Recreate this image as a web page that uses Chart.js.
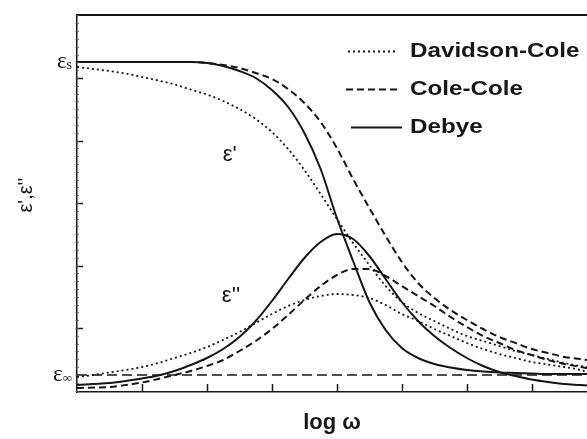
<!DOCTYPE html>
<html>
<head>
<meta charset="utf-8">
<script src="https://cdn.jsdelivr.net/npm/chart.js@4.4.0/dist/chart.umd.min.js"></script>
<style>
  html, body { margin: 0; padding: 0; background: #fff; }
  #wrap { width: 587px; height: 439px; position: relative; }
</style>
</head>
<body>
<div id="wrap"><canvas id="chart"></canvas></div>
<script>
// log omega (one unit = one bottom tick)
var logW = [0, 0.25, 0.5, 0.75, 1, 1.25, 1.5, 1.75, 2, 2.25, 2.5, 2.75, 3, 3.25, 3.5, 3.75,
            4, 4.25, 4.5, 4.75, 5, 5.25, 5.5, 5.75, 6, 6.25, 6.5, 6.75, 7, 7.25, 7.5, 7.75, 7.85];

// eps' (real part)
var debyeReal = [330, 330, 330, 330, 330, 330, 330, 330, 329, 326, 321, 314, 302, 285, 259, 223,
                 174, 131, 90, 62, 44, 34, 28, 24.5, 22, 20.5, 19.5, 19, 18.5, 18, 18, 18, 18];
var coleColeReal = [330, 330, 330, 330, 330, 330, 330, 330, 329, 327, 324, 319, 313, 303, 289, 270,
                    244, 213, 184, 156, 130, 109, 94, 82, 72, 63, 55, 49, 43, 39, 35, 33, 32];
var davidsonColeReal = [325, 323, 321, 318.5, 315, 311.5, 307.5, 302.5, 297.5, 291, 283, 273, 260, 243, 222, 198,
                        173, 149, 127, 106, 90, 79, 71, 63, 56, 51, 46, 41, 37, 33, 29, 26, 25];

// eps'' (imaginary part)
var debyeImag = [7, 8, 9, 11, 13.5, 16.5, 21, 27, 34, 43, 55, 71, 91, 113, 134, 150,
                 158, 153, 136, 113, 90, 71, 56, 44, 34, 26, 20, 16, 12.5, 10, 8, 7, 6.5];
var coleColeImag = [4, 4.5, 5, 7, 9.5, 13, 17, 21, 26, 32, 41, 51, 63, 77, 92, 106,
                    117, 123, 123, 116, 106, 96, 86, 75, 65, 56, 49, 42, 37, 32, 28, 25, 24];
var davidsonColeImag = [15, 17, 19.5, 22, 25, 29, 34, 39, 45, 52, 60, 69, 78, 86, 92, 96,
                        98, 97, 94, 87, 78, 71, 63, 56, 49, 43, 38, 34, 30, 27.5, 25, 22, 20];

var epsInf = 17;
var epsStatic = 330;

var xTicks = [1, 2, 3, 4, 5, 6, 7];
var yTicks = [64, 126.5, 189, 251.5, 314];
var yMinorStep = 7.8125;

var legendLabels = ['Davidson-Cole', 'Cole-Cole', 'Debye'];

var INK = '#161616';
var SOLID = [];
var DASH = [7, 4];
var DOT = [2, 3];

function pts(ys) {
    return logW.map(function(x, i) { return { x: x, y: ys[i] }; });
}

function line(label, ys, dash, width) {
    return {
        label: label, data: pts(ys), borderColor: INK, borderWidth: width,
        borderDash: dash, pointRadius: 0, fill: false, cubicInterpolationMode: 'monotone'
    };
}

var decorPlugin = {
    id: 'decor',
    afterDraw: function(chart) {
        var ctx = chart.ctx, a = chart.chartArea;
        var xs = chart.scales.x, ys = chart.scales.y;
        ctx.save();
        ctx.strokeStyle = INK;
        ctx.fillStyle = INK;

        // top frame
        ctx.lineWidth = 2;
        ctx.beginPath(); ctx.moveTo(a.left, a.top); ctx.lineTo(a.right, a.top); ctx.stroke();

        // inward ticks
        ctx.lineWidth = 1.5;
        xTicks.forEach(function(v) {
            var px = Math.round(xs.getPixelForValue(v)) + 0.5;
            ctx.beginPath(); ctx.moveTo(px, a.bottom); ctx.lineTo(px, a.bottom - 8); ctx.stroke();
        });
        yTicks.forEach(function(v) {
            var py = Math.round(ys.getPixelForValue(v)) + 0.5;
            ctx.beginPath(); ctx.moveTo(a.left, py); ctx.lineTo(a.left + 6, py); ctx.stroke();
        });
        ctx.lineWidth = 0.8;
        ctx.strokeStyle = '#555';
        var v = yTicks[0];
        while (v - yMinorStep >= ys.min) v -= yMinorStep;
        for (; v <= ys.max; v += yMinorStep) {
            var py = Math.round(ys.getPixelForValue(v)) + 0.5;
            ctx.beginPath(); ctx.moveTo(a.left - 1.5, py); ctx.lineTo(a.left + 2, py); ctx.stroke();
        }
        ctx.strokeStyle = INK;

        // eps_s / eps_inf labels on the left
        [[epsStatic, 's', 14], [epsInf, '\u221E', 13]].forEach(function(l) {
            var py = ys.getPixelForValue(l[0]);
            ctx.font = '23px "Liberation Serif"';
            var wE = ctx.measureText('\u03B5').width;
            ctx.font = l[2] + 'px "Liberation Serif"';
            var wS = ctx.measureText(l[1]).width;
            var x0 = a.left - 5 - wE - wS;
            ctx.textAlign = 'left';
            ctx.textBaseline = 'alphabetic';
            ctx.font = '23px "Liberation Serif"';
            ctx.fillText('\u03B5', x0, py + 6);
            ctx.font = l[2] + 'px "Liberation Serif"';
            ctx.fillText(l[1], x0 + wE, py + 7);
        });

        // curve annotations
        ctx.font = '22px "Liberation Sans"';
        ctx.textAlign = 'center';
        ctx.textBaseline = 'middle';
        ctx.fillText("\u03B5'", xs.getPixelForValue(2.35), ys.getPixelForValue(237));
        ctx.fillText("\u03B5''", xs.getPixelForValue(2.37), ys.getPixelForValue(96));

        // legend
        var dashes = [DOT, DASH, SOLID];
        var rowY = [51, 89, 127];
        var lx0 = [348, 346, 351], lx1 = [398, 400, 402];
        legendLabels.forEach(function(lab, i) {
            ctx.save();
            ctx.lineWidth = 2;
            ctx.setLineDash(dashes[i]);
            ctx.beginPath(); ctx.moveTo(lx0[i], rowY[i] + 0.5); ctx.lineTo(lx1[i], rowY[i] + 0.5); ctx.stroke();
            ctx.restore();
            ctx.save();
            ctx.translate(410, rowY[i]);
            ctx.scale(1.21, 1);
            ctx.font = 'bold 20px "Liberation Sans"';
            ctx.textAlign = 'left';
            ctx.textBaseline = 'middle';
            ctx.fillText(lab, 0, 0);
            ctx.restore();
        });
        ctx.restore();
    }
};

new Chart(document.getElementById('chart'), {
    type: 'line',
    data: {
        datasets: [
            line('Debye eps\'', debyeReal, SOLID, 2),
            line('Cole-Cole eps\'', coleColeReal, DASH, 2),
            line('Davidson-Cole eps\'', davidsonColeReal, DOT, 1.8),
            line('Debye eps\'\'', debyeImag, SOLID, 2),
            line('Cole-Cole eps\'\'', coleColeImag, DASH, 2),
            line('Davidson-Cole eps\'\'', davidsonColeImag, DOT, 1.8),
            {
                label: 'eps_inf',
                data: [{ x: logW[0], y: epsInf }, { x: logW[logW.length - 1], y: epsInf }],
                borderColor: INK, borderWidth: 1.5, borderDash: [10, 5], pointRadius: 0, fill: false
            }
        ]
    },
    options: {
        animation: false,
        responsive: true,
        maintainAspectRatio: false,
        layout: { padding: { top: 15, right: 0, left: 0, bottom: 0 } },
        plugins: { legend: { display: false }, tooltip: { enabled: false } },
        scales: {
            x: {
                type: 'linear', min: 0, max: 7.85,
                grid: { display: true, drawOnChartArea: false, drawTicks: false },
                border: { color: INK, width: 1.5 },
                ticks: { display: false },
                title: { display: true, text: 'log \u03C9', color: INK,
                         font: { family: 'Liberation Sans', size: 22, weight: 'bold' },
                         padding: { top: 0, bottom: 3 } },
                afterFit: function(s) { s.height = 47; }
            },
            y: {
                type: 'linear', min: 0, max: 377,
                grid: { display: true, drawOnChartArea: false, drawTicks: false },
                border: { color: INK, width: 1.5 },
                ticks: { display: false },
                title: { display: true, text: "   \u03B5',\u03B5''", color: INK,
                         font: { family: 'Liberation Sans', size: 20 },
                         padding: { top: 14, bottom: 0 } },
                afterFit: function(s) { s.width = 77; }
            }
        }
    },
    plugins: [decorPlugin]
});
</script>
</body>
</html>
